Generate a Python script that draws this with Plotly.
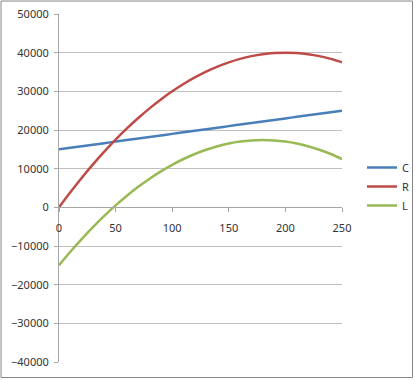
import plotly.graph_objects as go

x_vals = [0, 10, 20, 30, 40, 50, 60, 70, 80, 90, 100, 110, 120, 130, 140, 150,
          160, 170, 180, 190, 200, 210, 220, 230, 240, 250]
c_vals = [15000, 15400, 15800, 16200, 16600, 17000, 17400, 17800, 18200, 18600,
          19000, 19400, 19800, 20200, 20600, 21000, 21400, 21800, 22200, 22600,
          23000, 23400, 23800, 24200, 24600, 25000]
r_vals = [0, 3900, 7600, 11100, 14400, 17500, 20400, 23100, 25600, 27900,
          30000, 31900, 33600, 35100, 36400, 37500, 38400, 39100, 39600, 39900,
          40000, 39900, 39600, 39100, 38400, 37500]
l_vals = [-15000, -11500, -8200, -5100, -2200, 500, 3000, 5300, 7400, 9300,
          11000, 12500, 13800, 14900, 15800, 16500, 17000, 17300, 17400, 17300,
          17000, 16500, 15800, 14900, 13800, 12500]
series_names = ["C", "R", "L"]
colors = ["#4a7ebb", "#be4b48", "#98b954"]
y_ticks = [-40000, -30000, -20000, -10000, 0, 10000, 20000, 30000, 40000, 50000]
x_ticks = [0, 50, 100, 150, 200, 250]

fig = go.Figure()
for name, vals, col in zip(series_names, [c_vals, r_vals, l_vals], colors):
    fig.add_trace(go.Scatter(x=x_vals, y=vals, name=name, mode="lines",
                             line=dict(color=col, width=2.5, shape="spline")))

ymin, ymax = -40000, 50000
fig.update_layout(
    width=415, height=380,
    margin=dict(l=59, r=73, t=14, b=18, autoexpand=False),
    paper_bgcolor="white", plot_bgcolor="white",
    font=dict(family="Noto Sans, Liberation Sans, sans-serif", size=11, color="#333333"),
    xaxis=dict(range=[0, 250], tickvals=x_ticks, showgrid=False, zeroline=False,
               showline=True, linecolor="#a6a6a6", linewidth=1,
               ticks="outside", ticklen=4, tickcolor="#a6a6a6", automargin=False,
               ticklabelstandoff=6,
               anchor="free", position=(0 - ymin) / (ymax - ymin)),
    yaxis=dict(range=[ymin, ymax], tickvals=y_ticks, tickformat="d", showgrid=True,
               gridcolor="#bfbfbf", gridwidth=1, zeroline=False, automargin=False,
               showline=True, linecolor="#a6a6a6", linewidth=1,
               ticks="outside", ticklen=4, tickcolor="#a6a6a6",
               ticklabelstandoff=3),
    legend=dict(xref="container", yref="container", x=362 / 415, y=1 - 153 / 380,
                xanchor="left", yanchor="top", itemwidth=30,
                bgcolor="rgba(0,0,0,0)", font=dict(size=11)),
    shapes=[dict(type="rect", xref="paper", yref="paper",
                 x0=(1 - 59) / 283, x1=(412.5 - 59) / 283,
                 y0=(362 - 377.5) / 348, y1=(362 - 1) / 348,
                 line=dict(color="#868686", width=1), fillcolor="rgba(0,0,0,0)",
                 layer="below")],
)
fig.write_html("out.html", config={"displayModeBar": False},
               post_script="document.body.style.margin='0';document.body.style.padding='0';")
